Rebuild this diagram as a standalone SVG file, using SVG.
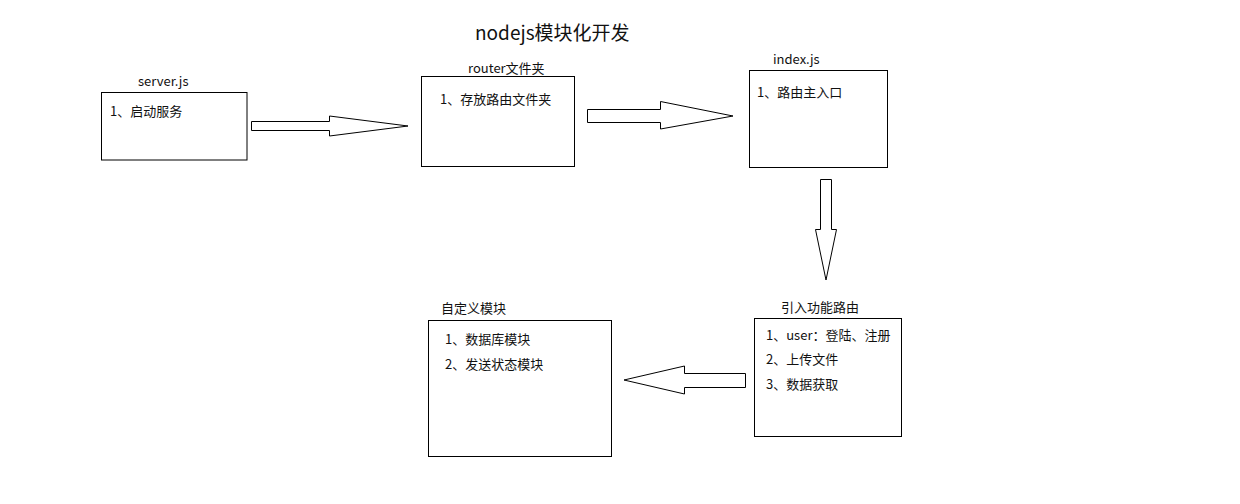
<svg xmlns="http://www.w3.org/2000/svg" width="1240" height="504" viewBox="0 0 1240 504">
<style>
.box{fill:#fff;stroke:#000;stroke-width:1}
.arr{fill:#fff;stroke:#000;stroke-width:1;stroke-linejoin:miter}
text{font-family:"Noto Sans CJK SC","Noto Sans",sans-serif;font-size:13px;fill:#111}
.title{font-size:19px}
</style>
<rect width="1240" height="504" fill="#fff"/>
<text class="title" x="475" y="40">nodejs模块化开发</text>
<g id="server">
<text x="138" y="86">server.js</text>
<rect class="box" x="101.5" y="92.5" width="145.5" height="67.5"/>
<text x="110" y="116">1、启动服务</text>
</g>
<g id="router">
<text x="468" y="73">router文件夹</text>
<rect class="box" x="421.5" y="76.5" width="153" height="90"/>
<text x="440" y="104">1、存放路由文件夹</text>
</g>
<g id="index">
<text x="773" y="64">index.js</text>
<rect class="box" x="749.5" y="70.5" width="138" height="97"/>
<text x="757" y="97">1、路由主入口</text>
</g>
<g id="features">
<text x="781" y="312">引入功能路由</text>
<rect class="box" x="754.5" y="318.5" width="147" height="118"/>
<text x="766" y="340">1、user：登陆、注册</text>
<text x="766" y="364">2、上传文件</text>
<text x="766" y="389">3、数据获取</text>
</g>
<g id="custom">
<text x="441" y="313">自定义模块</text>
<rect class="box" x="428.5" y="320.5" width="183" height="136"/>
<text x="445" y="344">1、数据库模块</text>
<text x="445" y="369">2、发送状态模块</text>
</g>
<g id="connectors">
<polygon class="arr" points="251.5,121.5 329.5,121.5 329.5,116 408,126 329.5,136 329.5,130.5 251.5,130.5"/>
<polygon class="arr" points="587.5,109.5 660.5,109.5 660.5,101.5 733,116 660.5,129 660.5,122.5 587.5,122.5"/>
<polygon class="arr" points="820.5,179.5 831.5,179.5 831.5,229.5 836.5,229.5 826,280 815.5,229.5 820.5,229.5"/>
<polygon class="arr" points="745.5,373.5 684.5,373.5 684.5,366 624,380 684.5,394 684.5,387.5 745.5,387.5"/>
</g>
</svg>
